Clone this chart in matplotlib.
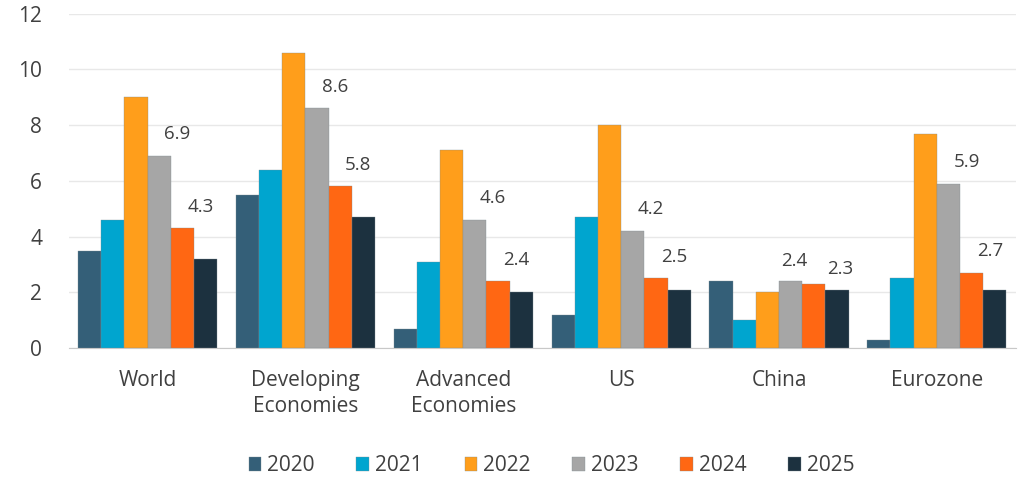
import matplotlib.pyplot as plt
import numpy as np

categories = ['World', 'Developing\nEconomies', 'Advanced\nEconomies', 'US', 'China', 'Eurozone']
years = ['2020', '2021', '2022', '2023', '2024', '2025']
v2020 = [3.5, 5.5, 0.7, 1.2, 2.4, 0.3]
v2021 = [4.6, 6.4, 3.1, 4.7, 1.0, 2.5]
v2022 = [9.0, 10.6, 7.1, 8.0, 2.0, 7.7]
v2023 = [6.9, 8.6, 4.6, 4.2, 2.4, 5.9]
v2024 = [4.3, 5.8, 2.4, 2.5, 2.3, 2.7]
v2025 = [3.2, 4.7, 2.0, 2.1, 2.1, 2.1]
series = [v2020, v2021, v2022, v2023, v2024, v2025]
colors = ['#345f78', '#00a5cf', '#ff9e1b', '#a6a6a6', '#ff6713', '#1c313f']
labelled = ['2023', '2024']

plt.rcParams['font.family'] = ['Open Sans', 'DejaVu Sans']

fig = plt.figure(figsize=(10.24, 4.83), dpi=100)
ax = fig.add_axes([0.067, 0.2795, 0.925, 0.692])

x = np.arange(len(categories))
w = 0.147
for i, (yr, vals, c) in enumerate(zip(years, series, colors)):
    pos = x + (i - 2.5) * w
    bars = ax.bar(pos, vals, w, color=c, label=yr, edgecolor='#7f8c92', linewidth=0.25, zorder=3)
    if yr in labelled:
        for j, (b, v) in enumerate(zip(bars, vals)):
            dx, dy = 0.115, 0.45
            # China labels were nudged apart in the original
            if categories[j] == 'China':
                dx, dy = (0.02, 0.4) if yr == '2023' else (0.17, 0.22)
            ax.text(b.get_x() + b.get_width() / 2 + dx, v + dy, f'{v:.1f}',
                    ha='center', va='bottom', fontsize=13.5, color='#404040')

ax.set_xlim(-0.5, len(categories) - 0.5)
ax.set_ylim(0, 12)
ax.set_yticks(range(0, 13, 2))
ax.yaxis.grid(True, color='#e8e8e8', linewidth=1, zorder=0)
ax.set_xticks(x)
ax.set_xticklabels(categories, fontsize=15, color='#404040', linespacing=1.3)
ax.tick_params(axis='y', labelsize=15, labelcolor='#404040', length=0, pad=19)
ax.tick_params(axis='x', length=0, pad=16)
for s in ['top', 'right', 'left']:
    ax.spines[s].set_visible(False)
ax.spines['bottom'].set_color('#c8c8c8')

ax.legend(loc='upper center', bbox_to_anchor=(0.51, -0.265), ncol=6, frameon=False,
          fontsize=15, handlelength=0.6, handleheight=0.6, handletextpad=0.3,
          columnspacing=2.0, labelcolor='#404040')

fig.savefig('out.png', dpi=100)
